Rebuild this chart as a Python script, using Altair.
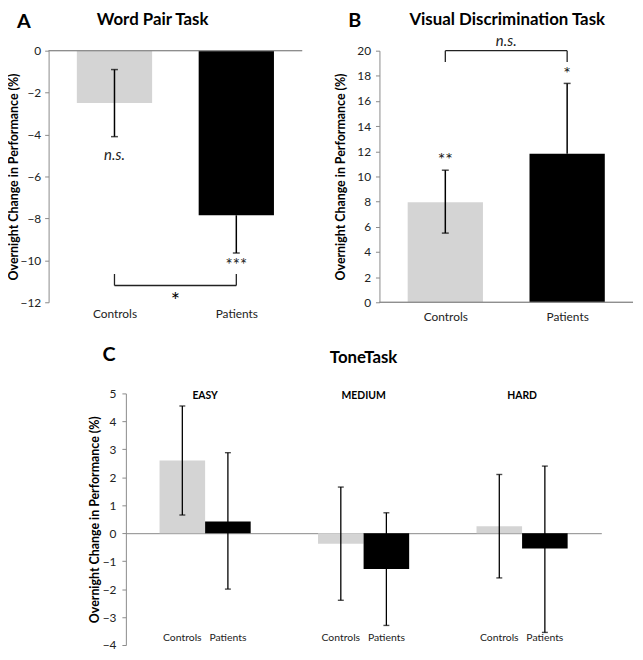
import altair as alt
import pandas as pd

FONT = "Lato"
LIGHT = "#d4d4d4"
AXIS_GRAY = "#8a8a8a"
TXT = "#222222"

groups = ["Controls", "Patients"]
bar_colors = [LIGHT, "#000000"]
ytitle = "Overnight Change in Performance (%)"

# ---- Panel A: Word Pair Task
a_mean = [-2.5, -7.85]
a_lo = [-4.1, -9.65]
a_hi = [-0.9, -7.85]
a_ticks = [-12, -10, -8, -6, -4, -2, 0]
a_ns_y = [-5.0]
a_stars_y = [-10.25]
a_bracket_y = [-11.2]
a_bracket_top = [-10.65]
a_star_y = [-11.75]

# ---- Panel B: Visual Discrimination Task
b_mean = [7.95, 11.8]
b_lo = [5.5, 11.8]
b_hi = [10.5, 17.4]
b_ticks = [0, 2, 4, 6, 8, 10, 12, 14, 16, 18, 20]
b_stars = ["**", "*"]
b_stars_y = [11.25, 18.05]
b_bracket_y = [20.0]
b_bracket_bottom = [19.1]
b_ns_y = [20.75]

# ---- Panel C: ToneTask
levels = ["EASY", "MEDIUM", "HARD"]
c_ctrl_mean = [2.6, -0.38, 0.25]
c_ctrl_lo = [0.65, -2.4, -1.6]
c_ctrl_hi = [4.55, 1.65, 2.1]
c_pat_mean = [0.42, -1.28, -0.55]
c_pat_lo = [-2.0, -3.3, -3.55]
c_pat_hi = [2.88, 0.73, 2.4]
c_ticks = [-4, -3, -2, -1, 0, 1, 2, 3, 4, 5]
c_domain = [-4, 5]

one = pd.DataFrame({"k": [0]})


def yaxis(values, title_pad, label_pad=5, offset=0):
    return alt.Axis(values=values, title=ytitle, grid=False, tickSize=4, labelOverlap=False,
                    domainColor=AXIS_GRAY, tickColor=AXIS_GRAY, labelColor=TXT,
                    labelFontSize=12, labelPadding=label_pad, titleFontSize=12.5,
                    titleFontWeight="bold", titleColor="#000", titlePadding=title_pad,
                    offset=offset)


def frame(left, top, right, bottom):
    # invisible layout frame fixing this panel's outer extent
    return alt.Chart(one).mark_rule(color="white", strokeOpacity=0, opacity=0).encode(
        x=alt.value(left), x2=alt.value(right), y=alt.value(top), y2=alt.value(bottom))


def label(text, x, y, size):
    return alt.Chart(pd.DataFrame({"t": [text]})).mark_text(
        fontSize=size, fontWeight="bold", color="#000", align="center", baseline="middle").encode(
        text="t:N", x=alt.value(x), y=alt.value(y))


def simple_panel(mean, lo, hi, ydomain, yvals, title_pad, xlabel_pad, label_pad=5):
    n = len(groups)
    df = pd.DataFrame({"pos": list(range(n)), "group": groups, "mean": mean,
                       "lo": lo, "hi": hi, "color": bar_colors})
    caps = []
    for i in range(n):
        for v in (lo[i], hi[i]):
            if v != mean[i]:
                caps.append({"pos": i, "v": v})
    caps = pd.DataFrame(caps)
    xs = alt.Scale(domain=[-0.5, n - 0.5], nice=False, zero=False)
    ys = alt.Scale(domain=ydomain, nice=False)
    xaxis = alt.Axis(values=list(range(n)),
                     labelExpr="['" + "','".join(groups) + "'][datum.value]",
                     domain=False, ticks=False, grid=False, title=None,
                     labelPadding=xlabel_pad, labelFontSize=12, labelColor=TXT)
    ya = yaxis(yvals, title_pad, label_pad)

    def X(f):
        return alt.X(f, scale=xs, axis=xaxis)

    def Y(f):
        return alt.Y(f, scale=ys, axis=ya)

    bars = alt.Chart(df).mark_bar(size=76).encode(
        x=X("pos:Q"), y=Y("mean:Q"), y2=alt.datum(0),
        color=alt.Color("color:N", scale=None))
    zero = alt.Chart(df).mark_rule(color=AXIS_GRAY, strokeWidth=1).encode(
        y=alt.YDatum(0, scale=ys, axis=ya))
    err = alt.Chart(df).mark_rule(color="#000", strokeWidth=1.5).encode(
        x=X("pos:Q"), y=Y("lo:Q"), y2="hi:Q")
    capm = alt.Chart(caps).mark_tick(orient="horizontal", size=7, thickness=1.5, color="#000").encode(
        x=X("pos:Q"), y=Y("v:Q"))
    return [bars, zero, err, capm], X, Y


# Panel A
a_layers, AX, AY = simple_panel(a_mean, a_lo, a_hi, [-12, 0], a_ticks, 0, 6, 4)
a_ns = alt.Chart(pd.DataFrame({"x": [0], "y": a_ns_y, "t": ["n.s."]})).mark_text(
    fontSize=15, fontStyle="italic", color=TXT, baseline="middle").encode(
    x=AX("x:Q"), y=AY("y:Q"), text="t:N")
a_st = alt.Chart(pd.DataFrame({"x": [1], "y": a_stars_y, "t": ["***"]})).mark_text(
    fontSize=17, color=TXT, baseline="middle").encode(x=AX("x:Q"), y=AY("y:Q"), text="t:N")
a_br_h = alt.Chart(pd.DataFrame({"x": [0], "x2": [1], "y": a_bracket_y})).mark_rule(
    color="#222", strokeWidth=1.3).encode(x=AX("x:Q"), x2="x2:Q", y=AY("y:Q"))
a_br_v = alt.Chart(pd.DataFrame({"x": [0, 1], "y": a_bracket_y * 2, "y2": a_bracket_top * 2})).mark_rule(
    color="#222", strokeWidth=1.3).encode(x=AX("x:Q"), y=AY("y:Q"), y2="y2:Q")
a_bstar = alt.Chart(pd.DataFrame({"x": [0.5], "y": a_star_y, "t": ["*"]})).mark_text(
    fontSize=22, color="#000", baseline="middle", dy=4).encode(x=AX("x:Q"), y=AY("y:Q"), text="t:N")
panelA = alt.layer(
    *a_layers, a_ns, a_st, a_br_h, a_br_v, a_bstar,
    label("Word Pair Task", 105, -31, 17), label("A", -25, -29, 20),
    frame(-41, -40, 270, 279),
).properties(width=256, height=254)

# Panel B
b_layers, BX, BY = simple_panel(b_mean, b_lo, b_hi, [0, 20], b_ticks, 9, 9)
b_st = alt.Chart(pd.DataFrame({"x": [0, 1], "y": b_stars_y, "t": b_stars})).mark_text(
    fontSize=18, color=TXT, baseline="middle").encode(x=BX("x:Q"), y=BY("y:Q"), text="t:N")
b_br_h = alt.Chart(pd.DataFrame({"x": [0], "x2": [1], "y": b_bracket_y})).mark_rule(
    color="#222", strokeWidth=1.3).encode(x=BX("x:Q"), x2="x2:Q", y=BY("y:Q"))
b_br_v = alt.Chart(pd.DataFrame({"x": [0, 1], "y": b_bracket_y * 2, "y2": b_bracket_bottom * 2})).mark_rule(
    color="#222", strokeWidth=1.3).encode(x=BX("x:Q"), y=BY("y:Q"), y2="y2:Q")
b_ns = alt.Chart(pd.DataFrame({"x": [0.5], "y": b_ns_y, "t": ["n.s."]})).mark_text(
    fontSize=15, fontStyle="italic", color=TXT, baseline="middle").encode(
    x=BX("x:Q"), y=BY("y:Q"), text="t:N")
panelB = alt.layer(
    *b_layers, b_st, b_br_h, b_br_v, b_ns,
    label("Visual Discrimination Task", 129, -31, 17), label("B", -25, -30, 20),
    frame(-46, -40, 256, 279),
).properties(width=256, height=254)

# Panel C  (plot area shares panel A's left edge; the axis and bands are inset)
C_INSET = 78
C_W = 480
C_H = 254
rows = []
for i, lv in enumerate(levels):
    rows.append({"level": lv, "subject": "Controls", "mean": c_ctrl_mean[i],
                 "lo": c_ctrl_lo[i], "hi": c_ctrl_hi[i], "color": LIGHT})
    rows.append({"level": lv, "subject": "Patients", "mean": c_pat_mean[i],
                 "lo": c_pat_lo[i], "hi": c_pat_hi[i], "color": "#000000"})
dfc = pd.DataFrame(rows)
capc = pd.concat([dfc[["level", "subject"]].assign(v=dfc["lo"]),
                  dfc[["level", "subject"]].assign(v=dfc["hi"])])
zero_offset = -C_H * (0 - c_domain[0]) / (c_domain[1] - c_domain[0])
cxaxis = alt.Axis(orient="bottom", offset=zero_offset, labels=False, ticks=False, domain=True,
                  domainColor=AXIS_GRAY, grid=False, title=None)
cx = alt.X("level:N", sort=levels, axis=cxaxis,
           scale=alt.Scale(paddingInner=0, paddingOuter=0, range=[C_INSET, C_INSET + C_W]))
cxo = alt.XOffset("subject:N", sort=groups, scale=alt.Scale(paddingInner=0, paddingOuter=0.739))
cys = alt.Scale(domain=c_domain, nice=False)
cya = yaxis(c_ticks, 1, 6, offset=-C_INSET)


def CY(f):
    return alt.Y(f, scale=cys, axis=cya)


c_bars = alt.Chart(dfc).mark_bar().encode(
    x=cx, xOffset=cxo, y=CY("mean:Q"), y2=alt.datum(0),
    color=alt.Color("color:N", scale=None))
c_err = alt.Chart(dfc).mark_rule(color="#000", strokeWidth=1.3).encode(
    x=cx, xOffset=cxo, y=CY("lo:Q"), y2="hi:Q")
c_caps = alt.Chart(capc).mark_tick(orient="horizontal", size=6, thickness=1.4, color="#000").encode(
    x=cx, xOffset=cxo, y=CY("v:Q"))
c_sub = alt.Chart(dfc).mark_text(fontSize=10.5, color=TXT, baseline="middle", dy=-7).encode(
    x=cx, xOffset=cxo, y=alt.YDatum(c_domain[0], scale=cys, axis=cya), text="subject:N")
c_lv = alt.Chart(pd.DataFrame({"level": levels})).mark_text(
    fontSize=10.5, fontWeight="bold", color="#000", baseline="middle", dy=3).encode(
    x=cx, y=alt.YDatum(c_domain[1], scale=cys, axis=cya), text="level:N")
panelC = alt.layer(
    c_bars, c_err, c_caps, c_sub, c_lv,
    label("ToneTask", C_INSET + 240, -36, 17), label("C", C_INSET - 17, -39, 20),
    frame(-41, -50, C_INSET + C_W, C_H),
).properties(width=C_INSET + C_W, height=C_H)

row1 = alt.hconcat(panelA, panelB, spacing=18)
chart = alt.vconcat(row1, panelC, spacing=17).properties(
    autosize=alt.AutoSizeParams(type="none"),
    padding={"left": 41, "top": 40, "right": 592, "bottom": 608},
).configure(font=FONT).configure_view(stroke=None)

chart.save("out.html", embed_options={"renderer": "svg", "actions": False})
